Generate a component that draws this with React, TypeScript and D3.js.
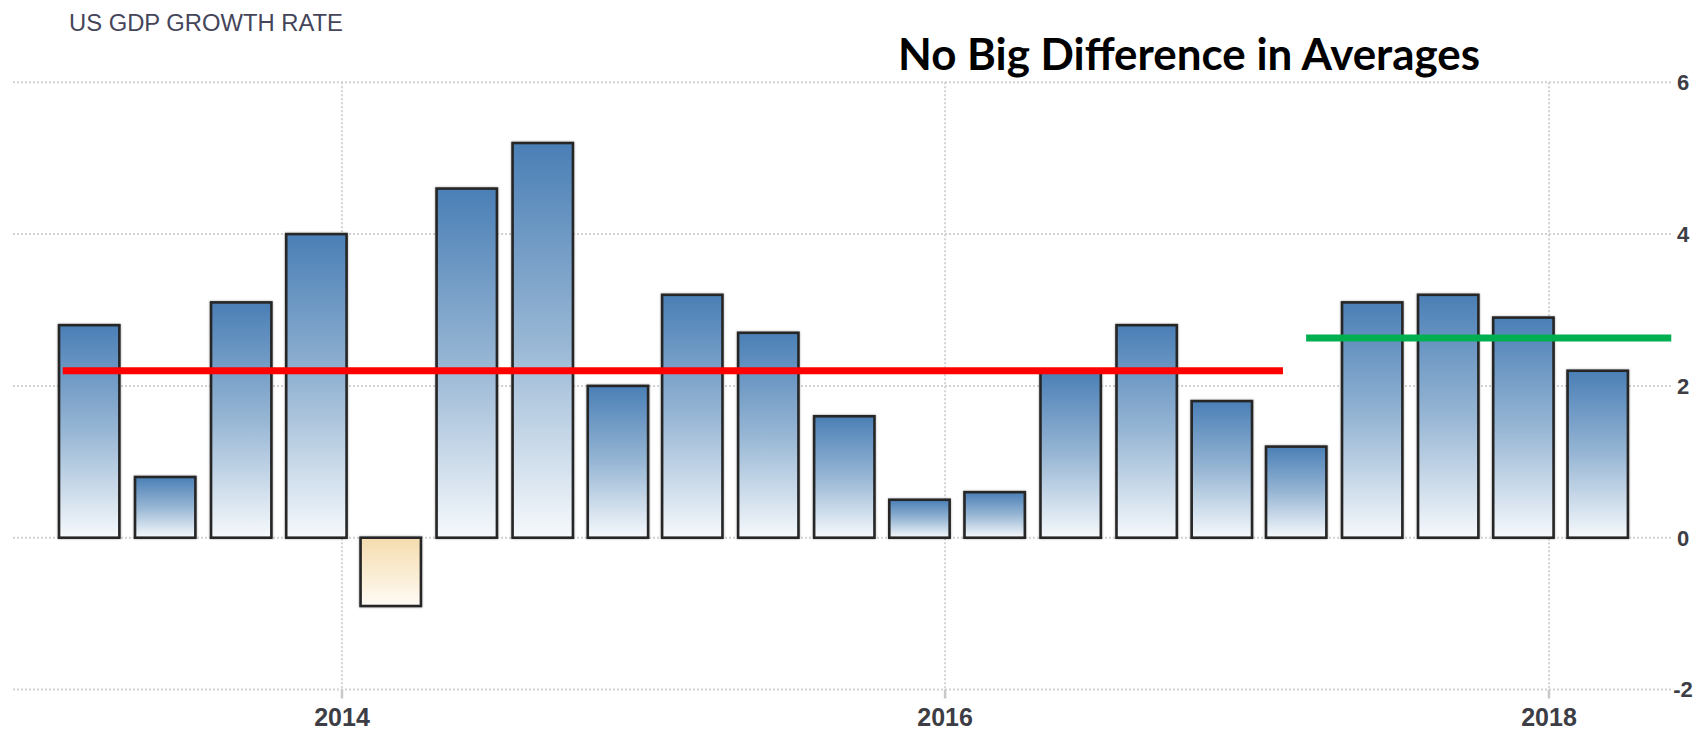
import React, { useEffect, useRef } from "react";
import * as d3 from "d3";

// quarterly US GDP growth (annualised, %), 2013 Q1 .. 2018 Q1
const quarterDates = [
  "2013-03-01", "2013-06-01", "2013-09-01", "2013-12-01",
  "2014-03-01", "2014-06-01", "2014-09-01", "2014-12-01",
  "2015-03-01", "2015-06-01", "2015-09-01", "2015-12-01",
  "2016-03-01", "2016-06-01", "2016-09-01", "2016-12-01",
  "2017-03-01", "2017-06-01", "2017-09-01", "2017-12-01",
  "2018-03-01",
];
const growth = [
  2.8, 0.8, 3.1, 4.0,
  -0.9, 4.6, 5.2, 2.0,
  3.2, 2.7, 1.6, 0.5,
  0.6, 2.2, 2.8, 1.8,
  1.2, 3.1, 3.2, 2.9,
  2.2,
];
const yTicks = [-2, 0, 2, 4, 6];
const yearTicks = ["2014-01-01", "2016-01-01", "2018-01-01"];

// hand drawn average lines
const avgStart = ["2013-01-28", "2017-03-13"];
const avgEnd = ["2017-02-13", "2018-05-29"];
const avgValue = [2.2, 2.63];

const chartTitle = "US GDP GROWTH RATE";
const note = "No Big Difference in Averages";

const W = 1705;
const H = 734;

const App = () => {
  const svgRef = useRef(null);

  useEffect(() => {
    const svg = d3.select(svgRef.current);
    svg.selectAll("*").remove();

    const parse = d3.utcParse("%Y-%m-%d");
    const dates = quarterDates.map((d) => parse(d));

    const gridLeft = 13;
    const gridRight = 1673;

    const x = d3
      .scaleUtc()
      .domain([parse("2014-01-01"), parse("2018-01-01")])
      .range([342, 1549]);
    const y = d3.scaleLinear().domain([-2, 6]).range([689.5, 82.3]);

    const step = (x(dates[dates.length - 1]) - x(dates[0])) / (dates.length - 1);
    const barW = step * 0.8;

    const defs = svg.append("defs");
    const blue = defs
      .append("linearGradient")
      .attr("id", "blueBar")
      .attr("x1", 0).attr("y1", 0).attr("x2", 0).attr("y2", 1);
    blue.append("stop").attr("offset", "0%").attr("stop-color", "#4a7fb6");
    blue.append("stop").attr("offset", "50%").attr("stop-color", "#97b6d4");
    blue.append("stop").attr("offset", "100%").attr("stop-color", "#f6f9fc");

    const tan = defs
      .append("linearGradient")
      .attr("id", "tanBar")
      .attr("x1", 0).attr("y1", 0).attr("x2", 0).attr("y2", 1);
    tan.append("stop").attr("offset", "0%").attr("stop-color", "#f5dcae");
    tan.append("stop").attr("offset", "100%").attr("stop-color", "#fffbf5");

    const shadow = defs.append("filter").attr("id", "soft")
      .attr("x", "-10%").attr("y", "-10%").attr("width", "120%").attr("height", "120%");
    shadow.append("feDropShadow")
      .attr("dx", 0).attr("dy", 0)
      .attr("stdDeviation", 1.2)
      .attr("flood-color", "#000")
      .attr("flood-opacity", 0.35);

    // grid
    const grid = svg.append("g");
    grid
      .selectAll("line.h")
      .data(yTicks)
      .enter()
      .append("line")
      .attr("x1", gridLeft)
      .attr("x2", gridRight)
      .attr("y1", (d) => y(d))
      .attr("y2", (d) => y(d))
      .attr("stroke", "#d2d2d2")
      .attr("stroke-width", 2)
      .attr("stroke-dasharray", "2,2");

    grid
      .selectAll("line.v")
      .data(yearTicks)
      .enter()
      .append("line")
      .attr("x1", (d) => x(parse(d)))
      .attr("x2", (d) => x(parse(d)))
      .attr("y1", y(6))
      .attr("y2", y(-2))
      .attr("stroke", "#d2d2d2")
      .attr("stroke-width", 2)
      .attr("stroke-dasharray", "2,2");

    // little ticks under the bottom line
    grid
      .selectAll("line.t")
      .data(yearTicks)
      .enter()
      .append("line")
      .attr("x1", (d) => x(parse(d)))
      .attr("x2", (d) => x(parse(d)))
      .attr("y1", y(-2))
      .attr("y2", y(-2) + 9)
      .attr("stroke", "#c8c8c8")
      .attr("stroke-width", 2.5);

    // bars
    svg
      .append("g")
      .selectAll("rect")
      .data(growth)
      .enter()
      .append("rect")
      .attr("x", (d, i) => x(dates[i]) - barW / 2)
      .attr("y", (d) => y(Math.max(0, d)))
      .attr("width", barW)
      .attr("height", (d) => Math.abs(y(d) - y(0)))
      .attr("fill", (d) => (d < 0 ? "url(#tanBar)" : "url(#blueBar)"))
      .attr("stroke", "#262626")
      .attr("stroke-width", 2.6)
      .attr("filter", "url(#soft)");

    // averages
    const avgColors = ["#ff0000", "#00b050"];
    svg
      .append("g")
      .selectAll("line")
      .data(avgValue)
      .enter()
      .append("line")
      .attr("x1", (d, i) => x(parse(avgStart[i])))
      .attr("x2", (d, i) => x(parse(avgEnd[i])))
      .attr("y1", (d) => y(d))
      .attr("y2", (d) => y(d))
      .attr("stroke", (d, i) => avgColors[i])
      .attr("stroke-width", 7);

    // y labels on the right
    svg
      .append("g")
      .selectAll("text")
      .data(yTicks)
      .enter()
      .append("text")
      .attr("x", 1683)
      .attr("y", (d) => y(d))
      .attr("dy", "0.36em")
      .attr("text-anchor", "middle")
      .attr("font-family", "Liberation Sans, Arial, sans-serif")
      .attr("font-weight", "bold")
      .attr("font-size", 22)
      .attr("fill", "#3d3d45")
      .text((d) => d);

    // x labels
    svg
      .append("g")
      .selectAll("text")
      .data(yearTicks)
      .enter()
      .append("text")
      .attr("x", (d) => x(parse(d)))
      .attr("y", 726)
      .attr("text-anchor", "middle")
      .attr("font-family", "Liberation Sans, Arial, sans-serif")
      .attr("font-weight", "bold")
      .attr("font-size", 25)
      .attr("fill", "#3d3d45")
      .text((d) => d.slice(0, 4));

    svg
      .append("text")
      .attr("x", 69)
      .attr("y", 31)
      .attr("font-family", "Liberation Sans, Arial, sans-serif")
      .attr("font-size", 23)
      .attr("fill", "#45455a")
      .attr("textLength", 274)
      .attr("lengthAdjust", "spacingAndGlyphs")
      .text(chartTitle);

    svg
      .append("text")
      .attr("x", 898)
      .attr("y", 70)
      .attr("font-family", "Lato, Open Sans, sans-serif")
      .attr("font-weight", "bold")
      .attr("font-size", 44)
      .attr("fill", "#000")
      .attr("textLength", 582)
      .attr("lengthAdjust", "spacingAndGlyphs")
      .text(note);
  }, []);

  return (
    <svg
      ref={svgRef}
      width={W}
      height={H}
      style={{ position: "absolute", left: 0, top: 0, background: "#fff" }}
    />
  );
};

export default App;
